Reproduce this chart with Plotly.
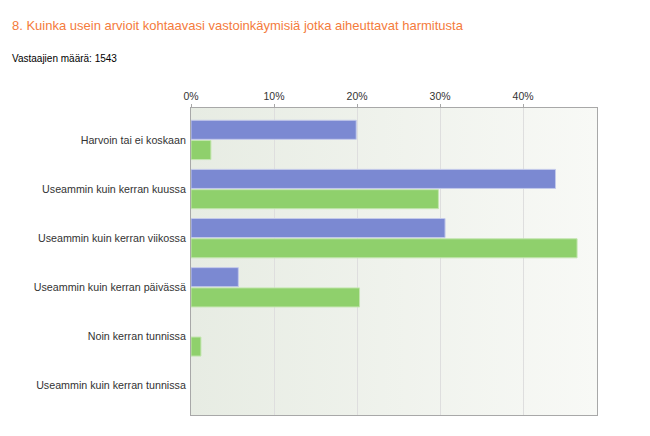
import base64
import plotly.graph_objects as go

categories = [
    "Harvoin tai ei koskaan",
    "Useammin kuin kerran kuussa",
    "Useammin kuin kerran viikossa",
    "Useammin kuin kerran päivässä",
    "Noin kerran tunnissa",
    "Useammin kuin kerran tunnissa",
]
series_a = [19.9, 43.9, 30.6, 5.7, 0.0, 0.0]
series_b = [2.4, 29.8, 46.5, 20.3, 1.2, 0.0]
tick_vals = [0, 10, 20, 30, 40]
tick_text = ["0%", "10%", "20%", "30%", "40%"]

title_text = "8. Kuinka usein arvioit kohtaavasi vastoinkäymisiä jotka aiheuttavat harmitusta"
subtitle_text = "Vastaajien määrä: 1543"

FONT = "Liberation Sans, Arial, sans-serif"

# page body has an 8px margin, so the figure is drawn 8px right/down
W, H = 642, 428
L, R, T, B = 183, 53, 100, 21
PW, PH = W - L - R, H - T - B

svg = (
    '<svg xmlns="http://www.w3.org/2000/svg" width="400" height="300" preserveAspectRatio="none" viewBox="0 0 400 300">'
    '<defs><linearGradient id="g" x1="0" y1="0" x2="1" y2="0">'
    '<stop offset="0" stop-color="#e7ece3"/><stop offset="1" stop-color="#f8f9f6"/>'
    '</linearGradient></defs><rect width="400" height="300" fill="url(#g)"/></svg>'
)
bg_src = "data:image/svg+xml;base64," + base64.b64encode(svg.encode()).decode()

fig = go.Figure()
fig.add_trace(go.Bar(
    y=categories, x=series_a, orientation="h", name="A",
    marker=dict(color="#7b89d2",
                line=dict(color="#c3c9ea", width=[1 if v > 0 else 0 for v in series_a])),
))
fig.add_trace(go.Bar(
    y=categories, x=series_b, orientation="h", name="B",
    marker=dict(color="#8fd06c",
                line=dict(color="#c4e6b0", width=[1 if v > 0 else 0 for v in series_b])),
))

fig.update_layout(
    width=W, height=H,
    margin=dict(l=L, r=R, t=T, b=B),
    paper_bgcolor="white",
    plot_bgcolor="rgba(0,0,0,0)",
    showlegend=False,
    barmode="group",
    bargap=0.175,
    bargroupgap=0.06,
    font=dict(family=FONT, size=11, color="#333333"),
    images=[dict(
        source=bg_src, xref="paper", yref="paper", x=0, y=1,
        sizex=1, sizey=1, sizing="stretch", layer="below",
        xanchor="left", yanchor="top",
    )],
    annotations=[
        dict(text=title_text, xref="paper", yref="paper", x=(2 - L) / PW, y=1 + (T - 17.5) / PH,
             xanchor="left", yanchor="middle", showarrow=False,
             font=dict(family=FONT, size=13, color="#f47b3c")),
        dict(text=subtitle_text, xref="paper", yref="paper", x=(2 - L) / PW, y=1 + (T - 50.5) / PH,
             xanchor="left", yanchor="middle", showarrow=False,
             font=dict(family=FONT, size=10, color="#000000")),
    ],
)
fig.update_xaxes(
    side="top", range=[0, 48.9], tickvals=tick_vals, ticktext=tick_text,
    tickfont=dict(size=10.5),
    showgrid=True, gridcolor="#dedede", gridwidth=1,
    showline=True, linecolor="#a8a8a8", linewidth=1, mirror=True,
    ticks="outside", ticklen=3, tickcolor="#a8a8a8",
    zeroline=False, fixedrange=True,
)
fig.update_yaxes(
    type="category", categoryorder="array", categoryarray=categories,
    range=[5.6, -0.65], tickfont=dict(size=10.7),
    showline=True, linecolor="#a8a8a8", linewidth=1, mirror=True,
    ticks="", ticklabelstandoff=2, showgrid=False,
)

fig.write_html("out.html")
